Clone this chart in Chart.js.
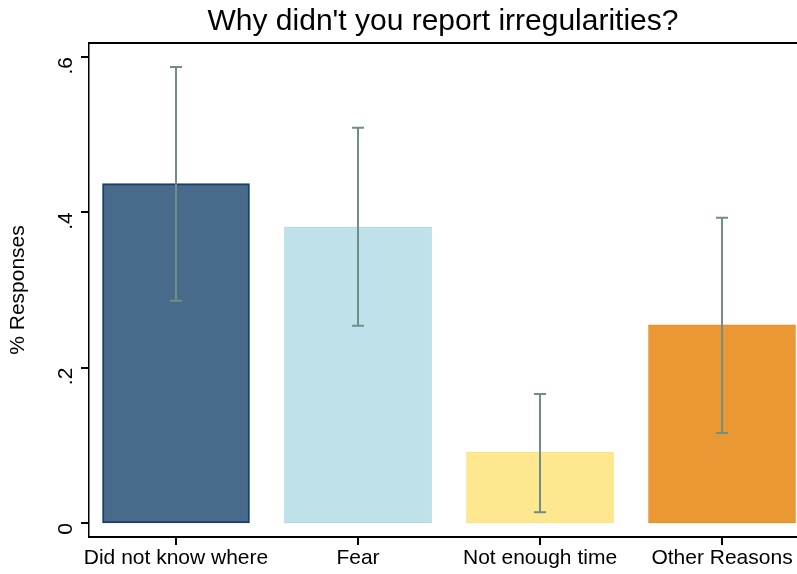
<!DOCTYPE html>
<html>
<head>
<meta charset="utf-8">
<script src="https://cdn.jsdelivr.net/npm/chart.js@4.4.1/dist/chart.umd.min.js"></script>
<style>
  html, body { margin: 0; padding: 0; background: #fff; }
  canvas { display: block; }
</style>
</head>
<body>
<canvas id="bars" width="797" height="574"></canvas>
<script>
const categories = ['Did not know where', 'Fear', 'Not enough time', 'Other Reasons'];
const shares = [0.437, 0.381, 0.091, 0.255];
const ciLow = [0.286, 0.254, 0.014, 0.116];
const ciHigh = [0.587, 0.509, 0.166, 0.393];
const yTicks = [0, 0.2, 0.4, 0.6];

const fills = ['#486a8b', '#bee1ea', '#fde78f', '#e99834'];
const edges = ['#1d3f66', '#acd6e3', '#fbe17c', '#e58c22'];

// stata-like error bars, tick marks and top frame line
const errorBars = {
  id: 'errorBars',
  afterDatasetsDraw(chart) {
    const c = chart.ctx, xs = chart.scales.x, ys = chart.scales.y;
    c.save();
    c.strokeStyle = '#6f8f86';
    c.lineWidth = 2;
    for (let i = 0; i < shares.length; i++) {
      const x = xs.getPixelForValue(i);
      const y1 = ys.getPixelForValue(ciLow[i]);
      const y2 = ys.getPixelForValue(ciHigh[i]);
      c.beginPath();
      c.moveTo(x, y1); c.lineTo(x, y2);
      c.moveTo(x - 6, y1); c.lineTo(x + 6, y1);
      c.moveTo(x - 6, y2); c.lineTo(x + 6, y2);
      c.stroke();
    }
    c.restore();
  },
  afterDraw(chart) {
    const c = chart.ctx, xs = chart.scales.x, ys = chart.scales.y;
    const a = chart.chartArea;
    c.save();
    c.fillStyle = '#000';
    // tick marks as small filled rects
    for (let i = 0; i < categories.length; i++) {
      const x = Math.round(xs.getPixelForValue(i));
      c.fillRect(x - 1, a.bottom, 2, 8);
    }
    for (const v of yTicks) {
      const y = Math.round(ys.getPixelForValue(v));
      c.fillRect(a.left - 8, y - 1, 8, 2);
    }
    c.fillRect(a.left, a.top - 1, a.right - a.left, 2);
    c.restore();
  }
};

new Chart(document.getElementById('bars'), {
  type: 'bar',
  data: {
    datasets: [{
      data: shares.map((v, i) => ({ x: i, y: v })),
      backgroundColor: fills,
      borderColor: edges,
      borderWidth: [2, 1, 1, 1],
      barThickness: 147,
      borderSkipped: false
    }]
  },
  options: {
    responsive: false,
    animation: false,
    devicePixelRatio: 1,
    layout: { padding: 0 },
    plugins: {
      legend: { display: false },
      tooltip: { enabled: false },
      title: {
        display: true,
        fullSize: false,
        text: "Why didn't you report irregularities?",
        color: '#000',
        font: { family: 'Liberation Sans', size: 30, weight: 'normal' },
        padding: { top: 4, bottom: 3 }
      }
    },
    scales: {
      x: {
        type: 'linear',
        offset: false,
        min: -0.478,
        max: 3.412,
        afterBuildTicks: s => { s.ticks = categories.map((_, i) => ({ value: i })); },
        afterFit: s => { s.height = 37; s.paddingLeft = 0; s.paddingRight = 0; },
        ticks: {
          autoSkip: false,
          maxRotation: 0,
          color: '#000',
          padding: 9,
          font: { family: 'Liberation Sans', size: 21 },
          callback: v => categories[v]
        },
        grid: { display: false, offset: false, drawTicks: false },
        border: { color: '#000', width: 2 }
      },
      y: {
        min: -0.018,
        max: 0.618,
        afterBuildTicks: s => { s.ticks = yTicks.map(v => ({ value: v })); },
        afterFit: s => { s.width = 89; },
        ticks: {
          minRotation: 90,
          maxRotation: 90,
          color: '#000',
          padding: 23,
          font: { family: 'Liberation Sans', size: 21 },
          callback: v => v === 0 ? '0' : String(Math.round(v * 10) / 10).replace(/^0/, '')
        },
        title: {
          display: true,
          text: '% Responses',
          color: '#000',
          font: { family: 'Liberation Sans', size: 21 },
          padding: { top: 6, bottom: 0 }
        },
        grid: { display: false, drawTicks: false },
        border: { color: '#000', width: 1.5 }
      }
    }
  },
  plugins: [errorBars]
});
</script>
</body>
</html>
